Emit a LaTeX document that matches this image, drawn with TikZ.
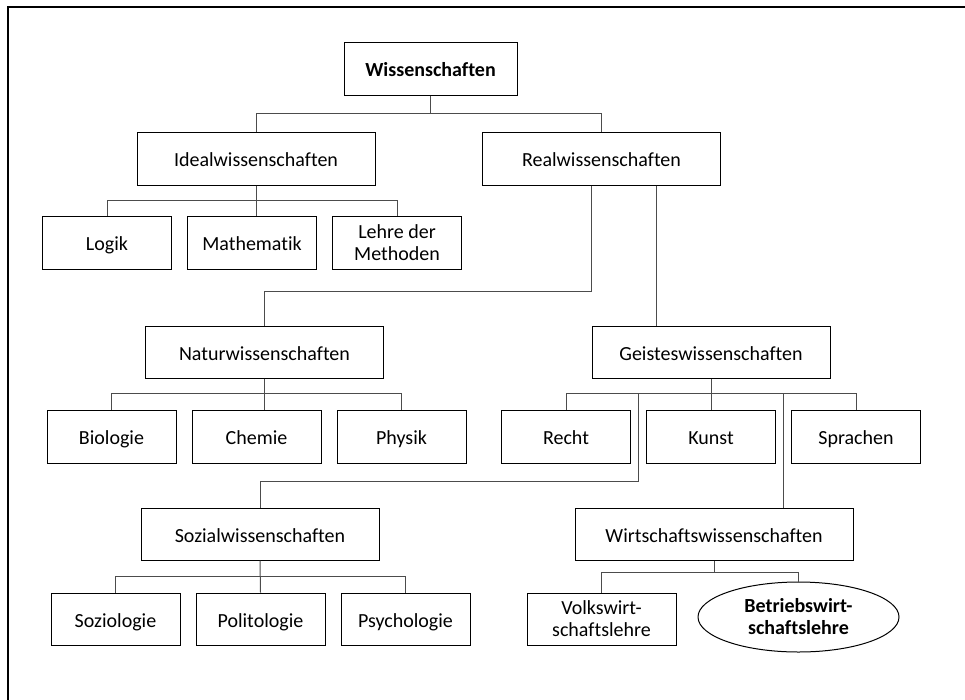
\documentclass[tikz,border=0pt]{standalone}
\usepackage{fontspec}
\setmainfont{Carlito}[Ligatures=NoCommon]
\usetikzlibrary{positioning, calc, shapes.geometric}

\begin{document}
\begin{tikzpicture}[x=1pt, y=-1pt, node distance=15pt,
    frame/.style={draw, line width=1pt, minimum height=53pt, inner sep=0pt, align=center,
                  font=\fontsize{20}{22}\selectfont},
    box/.style={frame, text height=16pt, text depth=0pt},
    main/.style={box, minimum width=238pt},
    leaf/.style={box, minimum width=129pt},
    oval/.style={ellipse, draw, line width=1pt, minimum width=201pt, minimum height=70pt, inner sep=0pt,
                 align=center, font=\fontsize{20}{22}\selectfont\bfseries},
    conn/.style={draw=black!70, line width=1pt}]
  \useasboundingbox (0,0) rectangle (965,699);
  % frame
  \draw[line width=1.3pt] (8,700) -- (8,7) -- (966,7);

  % top levels
  \node[box, minimum width=173pt, font=\fontsize{20}{22}\selectfont\bfseries] (ws) at (430.5,68.5) {Wissenschaften};
  \node[main] (iw) at (256,158.5) {Idealwissenschaften};
  \node[main] (rw) at (601.5,158.5) {Realwissenschaften};

  \node[leaf] (ma) at (252,242.5) {Mathematik};
  \node[leaf, left=of ma] (lo) {Logik};
  \node[frame, minimum width=129pt, right=of ma] (le) {Lehre der\\Methoden};

  \node[main, minimum height=52pt] (nw) at (264.5,352) {Naturwissenschaften};
  \node[main, minimum height=52pt] (gw) at (711,352) {Geisteswissenschaften};

  \node[leaf] (ch) at (256.5,436.5) {Chemie};
  \node[leaf, left=of ch] (bi) {Biologie};
  \node[leaf, right=of ch] (ph) {Physik};

  \node[leaf] (ku) at (711,436.5) {Kunst};
  \node[leaf, left=of ku] (re) {Recht};
  \node[leaf, right=of ku] (sp) {Sprachen};

  \node[main, minimum height=52pt] (sw) at (260,534) {Sozialwissenschaften};
  \node[box, minimum height=52pt, minimum width=278pt] (ww) at (714,534) {Wirtschaftswissenschaften};

  \node[leaf, minimum height=52pt] (po) at (260.5,619) {Politologie};
  \node[leaf, minimum height=52pt, left=of po] (so) {Soziologie};
  \node[leaf, minimum height=52pt, right=of po] (ps) {Psychologie};

  \node[frame, minimum height=52pt, minimum width=149pt] (vw) at (601.5,619) {Volkswirt-\\schaftslehre};
  \node[oval] (bw) at (798.5,617) {Betriebswirt-\\schaftslehre};

  % connectors
  \draw[conn] (ws.south) -- ++(0,18);
  \draw[conn] (iw.north) |- ($(ws.south)+(0,18)$) -| (rw.north);

  \draw[conn] (iw.south) -- (iw.south |- ma.north);
  \draw[conn] (lo.north) |- ($(iw.south)+(0,15)$) -| (le.north);

  \coordinate (r1) at ($(rw.south)+(55,0)$);
  \draw[conn] ($(rw.south)+(-10,0)$) |- ($(nw.north)+(0,-34)$) -- (nw.north);
  \draw[conn] (r1) -- (r1 |- gw.north);

  \draw[conn] (nw.south) -- (nw.south |- ch.north);
  \draw[conn] (bi.north) |- ($(nw.south)+(0,15)$) -| (ph.north);

  \coordinate (gb) at ($(gw.south)+(0,15)$);
  \coordinate (g1) at ($(re.east)!.5!(ku.west)$);
  \coordinate (g2) at ($(ku.east)!.5!(sp.west)$);
  \draw[conn] (gw.south) -- (ku.north);
  \draw[conn] (re.north) |- (gb) -| (sp.north);
  \draw[conn] (g1 |- gb) |- ($(sw.north)+(0,-26)$) -- (sw.north);
  \draw[conn] (g2 |- gb) -- (g2 |- ww.north);

  \draw[conn] (sw.south) -- (po.north);
  \draw[conn] (so.north) |- ($(sw.south)+(0,16)$) -| (ps.north);

  \draw[conn] (ww.south) -- ++(0,12);
  \draw[conn] (vw.north) |- ($(ww.south)+(0,12)$) -| (bw.north);
\end{tikzpicture}
\end{document}
